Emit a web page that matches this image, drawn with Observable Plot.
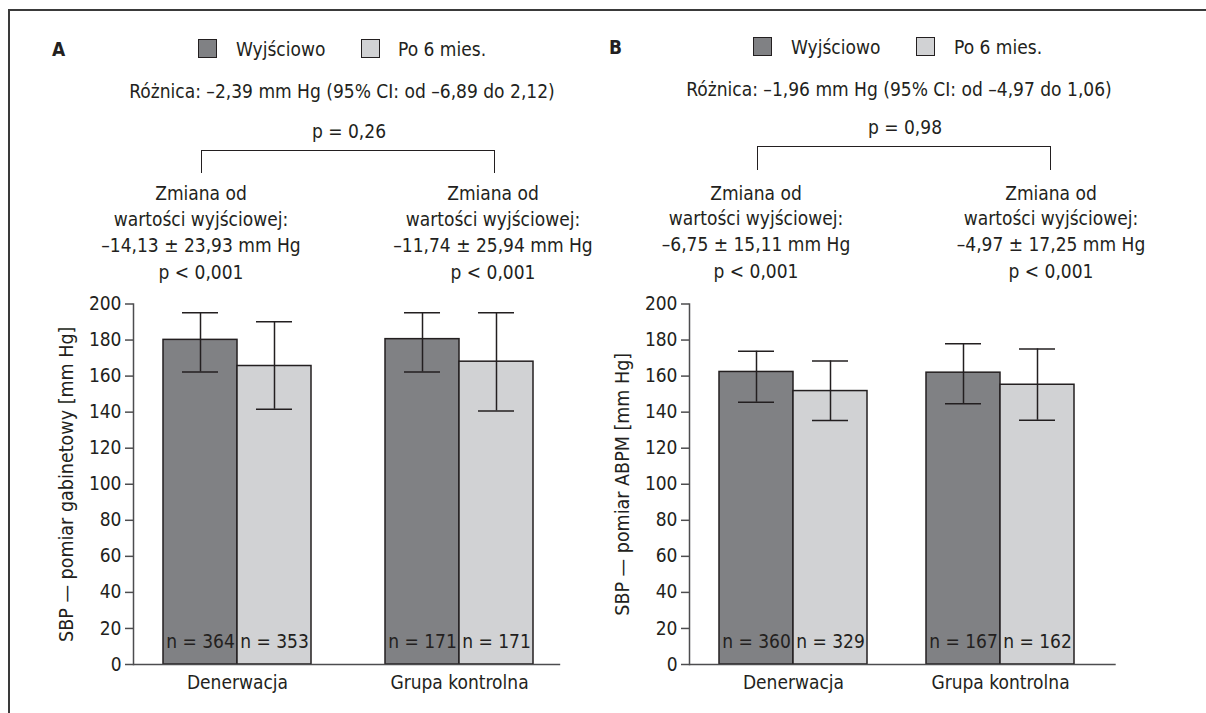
<!DOCTYPE html>
<html>
<head>
<meta charset="utf-8">
<script src="https://cdn.jsdelivr.net/npm/d3@7"></script>
<script src="https://cdn.jsdelivr.net/npm/@observablehq/plot@0.6"></script>
<style>
  body { margin: 0; background: #fff; }
  #root { position: relative; width: 1206px; height: 713px; overflow: hidden; background: #fff;
          font-family: "DejaVu Sans Condensed", "DejaVu Sans", sans-serif; font-stretch: condensed; color: #231f20; }
  .panel { position: absolute; top: 0; width: 603px; height: 713px; }
  .panel svg { position: absolute; left: 0; top: 0; font-stretch: condensed; }
  .t { position: absolute; font-size: 19px; line-height: 20px; white-space: nowrap; }
  .t.mid { transform: translateX(-50%); }
  .t.bold { font-weight: bold; }
  .sw { position: absolute; box-sizing: border-box; border: 1.5px solid #231f20; }
  .br { position: absolute; box-sizing: border-box; border-top: 1.5px solid #231f20; border-left: 1.5px solid #231f20; border-right: 1.5px solid #231f20; }
  #frame { position: absolute; left: 8px; top: 9px; width: 1200px; height: 710px; box-sizing: border-box;
           border-top: 2px solid #3a3a3a; border-left: 2px solid #3a3a3a; }
</style>
</head>
<body>
<div id="root"><div id="frame"></div></div>
<script>
// ---------- data ----------
const groups = ["Denerwacja", "Grupa kontrolna"];
const periods = ["Wyjściowo", "Po 6 mies."];
const periodColors = ["#808184", "#d1d2d4"];
const yTicks = [0, 20, 40, 60, 80, 100, 120, 140, 160, 180, 200];

// order: Denerwacja-Wyjściowo, Denerwacja-Po 6 mies., Grupa-Wyjściowo, Grupa-Po 6 mies.
const meanA = [180.1, 165.6, 180.5, 168.0];
const lowA  = [162.3, 141.6, 162.3, 140.7];
const highA = [195.2, 190.1, 195.2, 195.2];
const nA    = [364, 353, 171, 171];

const meanB = [162.3, 151.7, 161.9, 155.2];
const lowB  = [145.5, 135.3, 144.6, 135.5];
const highB = [173.8, 168.4, 177.9, 175.1];
const nB    = [360, 329, 167, 162];

const labelA = "A", labelB = "B";
const yTitleA = "SBP — pomiar gabinetowy [mm Hg]";
const yTitleB = "SBP — pomiar ABPM [mm Hg]";
const diffA = "Różnica: –2,39 mm Hg (95% CI: od –6,89 do 2,12)";
const diffB = "Różnica: –1,96 mm Hg (95% CI: od –4,97 do 1,06)";
const pA = "p = 0,26", pB = "p = 0,98";
const changeA = [
  ["Zmiana od", "wartości wyjściowej:", "–14,13 ± 23,93 mm Hg", "p < 0,001"],
  ["Zmiana od", "wartości wyjściowej:", "–11,74 ± 25,94 mm Hg", "p < 0,001"]
];
const changeB = [
  ["Zmiana od", "wartości wyjściowej:", "–6,75 ± 15,11 mm Hg", "p < 0,001"],
  ["Zmiana od", "wartości wyjściowej:", "–4,97 ± 17,25 mm Hg", "p < 0,001"]
];

// ---------- layout ----------
const FONT = '"DejaVu Sans Condensed", "DejaVu Sans", sans-serif';
const INK = "#231f20";
const AXIS = "#4d4d4f";

const layoutA = {
  left: 0, ml: 133, mr: 40.8, pi: 0.334, po: 0.1328, ext: 2,
  label: {x: 52, base: 55},
  legend: {sq: [197.7, 361], tx: [236, 398], top: 39, base: 55},
  diff: {x: 342, base: 97}, p: {x: 349, base: 137},
  bracket: {x1: 201, x2: 495, top: 150, bottom: 173},
  change: {x: [201, 493], base: [199, 225, 251, 278]}
};
const layoutB = {
  left: 603, ml: 86, mr: 102.3, pi: 0.286, po: 0.1433, ext: -12,
  label: {x: 6, base: 53},
  legend: {sq: [150, 313], tx: [188, 351], top: 37, base: 53},
  diff: {x: 296, base: 95}, p: {x: 302, base: 133},
  bracket: {x1: 154, x2: 448, top: 146, bottom: 170},
  change: {x: [153, 448], base: [199, 224, 250, 277]}
};

function addText(parent, str, x, baseline, opts = {}) {
  const d = document.createElement("div");
  d.className = "t" + (opts.mid ? " mid" : "") + (opts.bold ? " bold" : "");
  d.textContent = str;
  d.style.left = x + "px";
  d.style.top = (baseline - 16) + "px";
  parent.appendChild(d);
}

function makePanel(L, data, texts) {
  const root = document.getElementById("root");
  const div = document.createElement("div");
  div.className = "panel";
  div.style.left = L.left + "px";
  root.appendChild(div);

  const rows = [];
  groups.forEach((g, i) => periods.forEach((p, j) => {
    const k = i * 2 + j;
    rows.push({group: g, period: p, mean: data.mean[k], lo: data.low[k], hi: data.high[k], n: data.n[k]});
  }));
  const base = rows.filter(d => d.period === periods[0]);
  const post = rows.filter(d => d.period === periods[1]);

  const width = 603;
  const W = width - L.ml - L.mr;
  const step = W / (groups.length - L.pi + 2 * L.po);
  const band = step * (1 - L.pi);
  const half = band / 2, q = band / 4, cap = 18;

  const chart = Plot.plot({
    width, height: 713,
    marginTop: 303.5, marginBottom: 49, marginLeft: L.ml, marginRight: L.mr,
    style: {fontFamily: FONT, fontSize: "19px", color: INK, background: "transparent", overflow: "visible"},
    x: {type: "band", domain: groups, paddingInner: L.pi, paddingOuter: L.po, axis: null},
    y: {domain: [0, 200], axis: null},
    color: {domain: periods, range: periodColors},
    marks: [
      Plot.barY(base, {x: "group", y: "mean", fill: "period", stroke: INK, strokeWidth: 1.5, insetRight: half}),
      Plot.barY(post, {x: "group", y: "mean", fill: "period", stroke: INK, strokeWidth: 1.5, insetLeft: half}),
      Plot.ruleX(base, {x: "group", y1: "lo", y2: "hi", dx: -q, stroke: INK, strokeWidth: 1.5}),
      Plot.ruleX(post, {x: "group", y1: "lo", y2: "hi", dx: q, stroke: INK, strokeWidth: 1.5}),
      Plot.tickY(base, {x: "group", y: "lo", insetLeft: q - cap, insetRight: half + q - cap, stroke: INK, strokeWidth: 1.5}),
      Plot.tickY(base, {x: "group", y: "hi", insetLeft: q - cap, insetRight: half + q - cap, stroke: INK, strokeWidth: 1.5}),
      Plot.tickY(post, {x: "group", y: "lo", insetLeft: half + q - cap, insetRight: q - cap, stroke: INK, strokeWidth: 1.5}),
      Plot.tickY(post, {x: "group", y: "hi", insetLeft: half + q - cap, insetRight: q - cap, stroke: INK, strokeWidth: 1.5}),
      Plot.text(base, {x: "group", y: 0, text: d => `n = ${d.n}`, dx: -q, dy: -17, lineAnchor: "bottom", fill: INK}),
      Plot.text(post, {x: "group", y: 0, text: d => `n = ${d.n}`, dx: q, dy: -17, lineAnchor: "bottom", fill: INK}),
      Plot.ruleY([0], {stroke: AXIS, strokeWidth: 1.5, insetRight: L.ext}),
      Plot.frame({anchor: "left", stroke: AXIS, strokeWidth: 1.5}),
      Plot.axisY({ticks: yTicks, tickSize: 8, tickPadding: 4, stroke: AXIS, strokeWidth: 1.5, label: null, fill: INK}),
      Plot.axisX({tickSize: 0, tickPadding: 11, label: null, fill: INK}),
      Plot.text([texts.ytitle], {frameAnchor: "left", rotate: -90, dx: -61, lineAnchor: "bottom", textAnchor: "middle", fill: INK, fontSize: 19.5})
    ]
  });
  div.appendChild(chart);

  // header annotations
  addText(div, texts.label, L.label.x, L.label.base, {bold: true});
  periods.forEach((p, i) => {
    const s = document.createElement("div");
    s.className = "sw";
    s.style.left = L.legend.sq[i] + "px";
    s.style.top = L.legend.top + "px";
    s.style.width = "19px"; s.style.height = "19px";
    s.style.background = periodColors[i];
    div.appendChild(s);
    addText(div, p, L.legend.tx[i], L.legend.base);
  });
  addText(div, texts.diff, L.diff.x, L.diff.base, {mid: true});
  addText(div, texts.p, L.p.x, L.p.base, {mid: true});
  const b = document.createElement("div");
  b.className = "br";
  b.style.left = L.bracket.x1 + "px";
  b.style.width = (L.bracket.x2 - L.bracket.x1) + "px";
  b.style.top = L.bracket.top + "px";
  b.style.height = (L.bracket.bottom - L.bracket.top) + "px";
  div.appendChild(b);
  texts.change.forEach((lines, gi) => {
    lines.forEach((ln, li) => addText(div, ln, L.change.x[gi], L.change.base[li], {mid: true}));
  });
}

makePanel(layoutA, {mean: meanA, low: lowA, high: highA, n: nA},
  {label: labelA, ytitle: yTitleA, diff: diffA, p: pA, change: changeA});
makePanel(layoutB, {mean: meanB, low: lowB, high: highB, n: nB},
  {label: labelB, ytitle: yTitleB, diff: diffB, p: pB, change: changeB});
</script>
</body>
</html>
